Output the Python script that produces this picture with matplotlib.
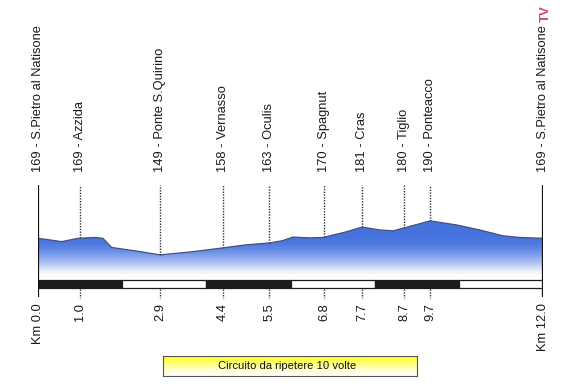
import numpy as np
import matplotlib
matplotlib.use("Agg")
import matplotlib.pyplot as plt
from matplotlib.colors import LinearSegmentedColormap
from matplotlib.patches import Rectangle, Polygon
from matplotlib.transforms import blended_transform_factory

plt.rcParams['font.family'] = ['Liberation Sans', 'DejaVu Sans']

# ---- data ----
profile_km = [0.0, 0.29, 0.56, 0.95, 1.35, 1.54, 1.75, 2.42, 2.90, 3.61, 4.40,
              4.92, 5.51, 5.80, 6.06, 6.46, 6.77, 7.30, 7.70, 8.13, 8.44, 8.77,
              9.32, 9.96, 10.50, 11.05, 11.45, 12.0]
profile_elev = [169, 167, 165, 169, 170, 169, 158, 153, 149, 152.5, 157.5,
                161, 163.5, 166, 170.5, 169.5, 170, 176.5, 182.5, 179, 178, 182.5,
                190, 185, 179, 172, 170, 169]

marker_km = [0.0, 1.0, 2.9, 4.4, 5.5, 6.8, 7.7, 8.7, 9.32, 12.0]
marker_names = ["169 - S.Pietro al Natisone", "169 - Azzida", "149 - Ponte S.Quirino",
                "158 - Vernasso", "163 - Oculis", "170 - Spagnut", "181 - Cras",
                "180 - Tiglio", "190 - Ponteacco", "169 - S.Pietro al Natisone"]
marker_km_labels = ["Km 0.0", "1.0", "2.9", "4.4", "5.5", "6.8", "7.7", "8.7", "9.7", "Km 12.0"]

scale_edges = [0, 2, 4, 6, 8, 10, 12]
box_text = "Circuito da ripetere 10 volte"

# ---- figure ----
W, H = 575, 386
fig = plt.figure(figsize=(W / 100, H / 100), dpi=100)
fig.patch.set_facecolor('white')

def fy(ypx):
    return 1 - ypx / H

# elevation mapping
px_per_m = 0.83
ref_y, ref_e = 238.3, 169
def e_of(ypx):
    return ref_e - (ypx - ref_y) / px_per_m

ax = fig.add_axes([38 / W, fy(300), 505 / W, (300 - 185) / H])
ax.set_xlim(0, 12)
ax.set_ylim(e_of(300), e_of(185))
ax.axis('off')

# gradient fill
cmap = LinearSegmentedColormap.from_list('g', [
    (0.0, '#ffffff'), (0.10, '#f2f5fd'), (0.35, '#a9bef1'), (0.6, '#6d92e8'),
    (0.8, '#4f7ae2'), (1.0, '#4672de')])
e_low, e_high = e_of(276), e_of(236)
grad = np.linspace(0, 1, 256).reshape(-1, 1)
img = ax.imshow(grad, extent=[0, 12, e_low, e_high], origin='lower', aspect='auto',
                cmap=cmap, zorder=1, interpolation='bilinear')
img2 = ax.imshow(np.ones((2, 1)), extent=[0, 12, e_high, 200], origin='lower',
                 aspect='auto', cmap=cmap, vmin=0, vmax=1, zorder=1)
verts = [(0, e_low)] + list(zip(profile_km, profile_elev)) + [(12, e_low)]
poly = Polygon(verts, closed=True, facecolor='none', edgecolor='none')
ax.add_patch(poly)
img.set_clip_path(poly)
img2.set_clip_path(poly)
ax.plot(profile_km, profile_elev, color='#46507a', lw=0.9, zorder=3)

# scale bar
bar_top, bar_bot = e_of(279.5), e_of(287.5)
for i in range(len(scale_edges) - 1):
    x0, x1 = scale_edges[i], scale_edges[i + 1]
    fc = '#1c1c1c' if i % 2 == 0 else 'white'
    ax.add_patch(Rectangle((x0, bar_bot), x1 - x0, bar_top - bar_bot,
                           facecolor=fc, edgecolor='#1c1c1c', lw=0.9, zorder=4))

# vertical lines
for k in marker_km:
    if k in (0.0, 12.0):
        ax.plot([k, k], [e_of(297), e_of(185)], color='#111111', lw=1.6, zorder=5,
                solid_capstyle='butt')
    else:
        top_prof = np.interp(k, profile_km, profile_elev)
        ax.plot([k, k], [top_prof, e_of(185)], color='#333333', lw=1.0,
                linestyle=(0, (1, 1)), zorder=2)
        ax.plot([k, k], [e_of(289), e_of(298)], color='#333333', lw=1.0,
                linestyle=(0, (1, 1)), zorder=2)

# labels
tr = blended_transform_factory(ax.transData, fig.transFigure)
for k, name, kl in zip(marker_km, marker_names, marker_km_labels):
    fig.text(k, fy(172), name, transform=tr, rotation=90, ha='center', va='bottom',
             fontsize=9.3, color='#1a1a1a')
    fig.text(k, fy(303), kl, transform=tr, rotation=90, ha='center', va='top',
             fontsize=9.3, color='#1a1a1a')

# TV logo
fig.text(546 / W, fy(5), "TV", rotation=90, ha='center', va='top', fontsize=9.5,
         fontweight='bold', color='#d8466e')

# yellow box
bx = fig.add_axes([163 / W, fy(376), (417 - 163) / W, (376 - 356) / H])
bx.set_xlim(0, 1)
bx.set_ylim(0, 1)
ycmap = LinearSegmentedColormap.from_list('y', [(0, '#ffffff'), (0.3, '#ffffd0'),
                                               (0.7, '#ffff66'), (1, '#ffff1e')])
bx.imshow(np.linspace(0, 1, 64).reshape(-1, 1), extent=[0, 1, 0, 1], origin='lower',
          aspect='auto', cmap=ycmap)
bx.set_xticks([])
bx.set_yticks([])
for s in bx.spines.values():
    s.set_color('#555555')
    s.set_linewidth(0.8)
bx.text(0.49, 0.5, box_text, ha='center', va='center', fontsize=8.1, color='#111111')

fig.savefig('out.png', dpi=100, facecolor='white')
